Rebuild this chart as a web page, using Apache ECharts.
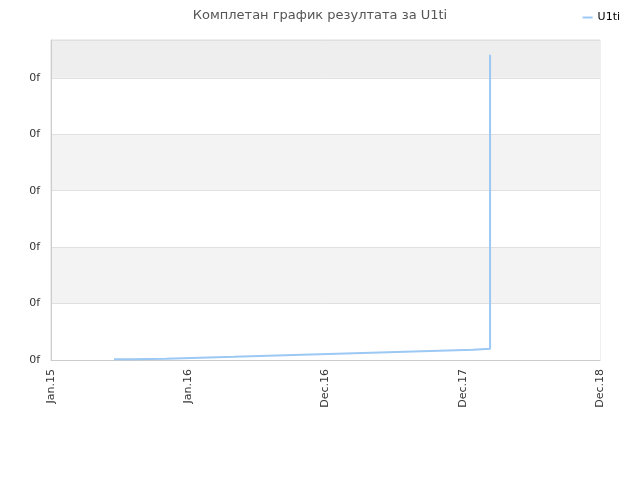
<!DOCTYPE html>
<html>
<head>
<meta charset="utf-8">
<script src="https://cdn.jsdelivr.net/npm/echarts@6/dist/echarts.min.js"></script>
<style>
  html, body { margin: 0; padding: 0; background: #fff; }
  #main { width: 640px; height: 480px; }
</style>
</head>
<body>
<div id="main"></div>
<script>
// x tick labels (one per axis unit)
var xLabels = ['Jan.15', 'Jan.16', 'Dec.16', 'Dec.17', 'Dec.18'];
// step positions along the x axis (axis units) and the values held from there
var xPos = [0.459, 0.590, 0.838, 1.086, 1.333, 1.581, 1.829, 2.084, 2.332, 2.579, 2.827, 3.075, 3.199];
var yVal = [0.012, 0.023, 0.041, 0.058, 0.076, 0.094, 0.112, 0.129, 0.147, 0.165, 0.183, 0.200, 5.41];
var seriesName = 'U1ti';

var chart = echarts.init(document.getElementById('main'));

var points = [];
for (var i = 0; i < xPos.length; i++) {
  points.push([xPos[i], yVal[i]]);
}

chart.setOption({
  animation: false,
  textStyle: { fontFamily: 'DejaVu Sans' },
  title: {
    text: 'Комплетан график резултата за U1ti',
    left: 'center',
    top: 4,
    textStyle: { fontSize: 13, fontWeight: 'normal', color: '#555' }
  },
  legend: {
    right: 15,
    top: 7,
    itemWidth: 10,
    itemHeight: 2,
    icon: 'rect',
    textStyle: { fontSize: 11, color: '#000' },
    data: [seriesName]
  },
  grid: {
    left: 51,
    right: 40,
    top: 40,
    bottom: 120,
    show: true,
    borderColor: '#ddd',
    borderWidth: 1
  },
  xAxis: {
    type: 'value',
    min: 0,
    max: 4,
    interval: 1,
    axisLine: { show: true, lineStyle: { color: '#ccc' } },
    axisTick: { show: false },
    splitLine: { show: false },
    axisLabel: {
      rotate: 90,
      fontSize: 11,
      color: '#333',
      margin: 9,
      formatter: function (v) { return xLabels[Math.round(v)] || ''; }
    }
  },
  yAxis: {
    type: 'value',
    min: 0,
    max: 5.67,
    interval: 1,
    axisLine: { show: true, lineStyle: { color: '#ccc' } },
    axisTick: { show: false },
    splitLine: { show: true, lineStyle: { color: '#e0e0e0' } },
    splitArea: {
      show: true,
      areaStyle: { color: ['#ffffff', '#f3f3f3', '#ffffff', '#f3f3f3', '#ffffff', '#eeeeee'] }
    },
    axisLabel: {
      fontSize: 11,
      color: '#333',
      margin: 11,
      showMaxLabel: false,
      formatter: function () { return '0f'; }
    }
  },
  series: [{
    name: seriesName,
    type: 'line',
    step: 'end',
    showSymbol: false,
    symbol: 'none',
    data: points,
    lineStyle: { color: '#9cc8f4', width: 2 },
    itemStyle: { color: '#9cc8f4' }
  }]
});
</script>
</body>
</html>
